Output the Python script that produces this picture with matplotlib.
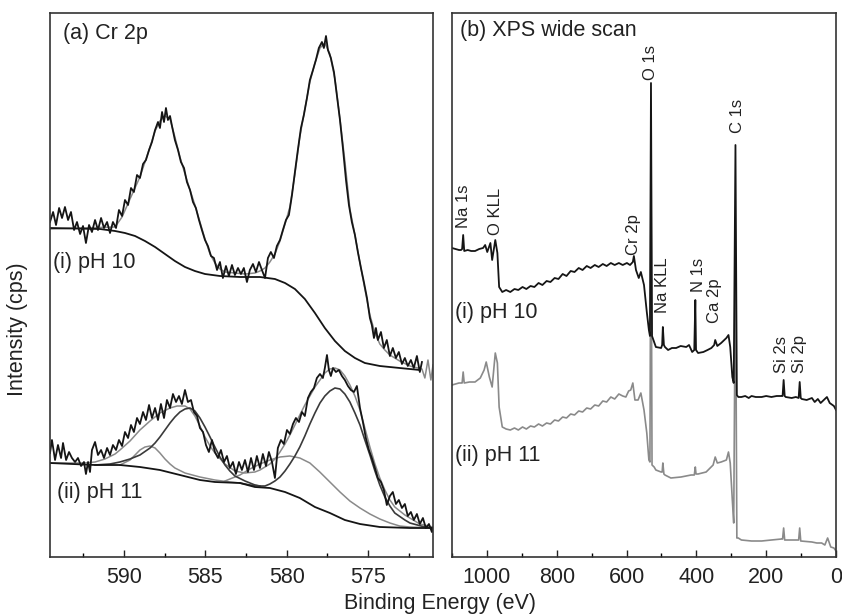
import matplotlib
matplotlib.use("Agg")
import matplotlib.pyplot as plt
from matplotlib.ticker import MultipleLocator

plt.rcParams['font.family'] = ['Liberation Sans', 'DejaVu Sans']

# ---------------- (a) Cr 2p high resolution ----------------
# (i) pH 10: raw counts (arbitrary units)
cr10_ev = [594.55, 594.36, 594.18, 593.99, 593.81, 593.63, 593.44, 593.26, 593.07, 592.89,
           592.70, 592.52, 592.34, 592.15, 591.97, 591.78, 591.60, 591.41, 591.23, 591.04,
           590.86, 590.68, 590.49, 590.31, 590.12, 589.94, 589.75, 589.57, 589.39, 589.20,
           589.02, 588.83, 588.65, 588.46, 588.28, 588.09, 587.91, 587.79, 587.66, 587.54,
           587.42, 587.30, 587.17, 587.05, 586.87, 586.68, 586.50, 586.31, 586.13, 585.94,
           585.76, 585.58, 585.39, 585.21, 585.02, 584.84, 584.65, 584.47, 584.28, 584.10,
           583.92, 583.73, 583.55, 583.36, 583.18, 582.99, 582.81, 582.63, 582.44, 582.26,
           582.07, 581.89, 581.70, 581.52, 581.33, 581.15, 580.97, 580.78, 580.60, 580.41,
           580.23, 580.04, 579.86, 579.67, 579.49, 579.31, 579.12, 578.94, 578.75, 578.57,
           578.38, 578.20, 578.02, 577.83, 577.71, 577.58, 577.46, 577.28, 577.09, 576.91,
           576.72, 576.54, 576.35, 576.17, 575.99, 575.80, 575.62, 575.43, 575.25, 575.06,
           574.88, 574.76, 574.63, 574.51, 574.39, 574.20, 574.02, 573.84, 573.65, 573.47,
           573.28, 573.10, 572.91, 572.73, 572.55, 572.36, 572.18, 571.99, 571.81, 571.68]
cr10_cps = [335, 345, 332, 349, 339, 350, 337, 345, 327, 335,
            323, 331, 314, 332, 325, 337, 327, 339, 329, 335,
            324, 335, 329, 347, 341, 357, 352, 369, 365, 382,
            379, 393, 397, 407, 415, 427, 435, 429, 445, 435,
            449, 437, 441, 431, 417, 407, 395, 389, 375, 367,
            355, 349, 337, 327, 317, 311, 301, 299, 287, 295,
            279, 291, 281, 292, 282, 289, 283, 289, 275, 287,
            293, 285, 295, 287, 279, 299, 305, 299, 311, 317,
            327, 337, 342, 362, 385, 407, 429, 442, 459, 477,
            487, 497, 509, 515, 509, 521, 507, 499, 485, 462,
            437, 409, 377, 352, 335, 322, 305, 289, 275, 259,
            239, 232, 219, 229, 217, 225, 209, 217, 201, 209,
            199, 205, 193, 199, 191, 197, 189, 201, 185, 195]

cr10_fit_ev = [594.55, 590.55, 590.12, 589.63, 589.02, 588.71, 588.40, 588.09, 587.79, 587.48,
               587.17, 586.87, 586.56, 586.25, 585.94, 585.64, 585.33, 585.02, 584.71, 584.41,
               584.10, 583.79, 583.18, 582.56, 581.95, 581.64, 581.33, 581.03, 580.72, 580.41,
               580.10, 579.80, 579.49, 579.19, 578.88, 578.57, 578.26, 577.95, 577.65, 577.34,
               577.03, 576.72, 576.42, 576.11, 575.80, 575.49, 575.19, 574.88, 574.57, 574.27,
               573.96, 573.65, 573.05, 572.42, 571.68, 571.50, 571.31, 571.13, 571.00]
cr10_fit_cps = [328, 330, 340, 358, 380, 395, 410, 426, 436, 441,
                438, 420, 400, 383, 367, 352, 335, 318, 303, 294,
                288, 285, 284, 283, 284, 286, 289, 295, 303, 316,
                333, 350, 383, 420, 448, 475, 494, 509, 514, 503,
                478, 438, 396, 348, 322, 294, 268, 242, 224, 213,
                207, 202, 196, 191, 188, 179, 197, 177, 192]

cr10_bg_ev = [594.55, 591.48, 590.55, 589.94, 589.32, 588.71, 588.09, 587.48, 586.87, 586.25,
              585.64, 585.02, 584.10, 582.87, 581.64, 580.72, 580.10, 579.49, 578.88, 578.26,
              577.65, 577.03, 576.42, 575.80, 575.19, 574.27, 573.05, 571.81]
cr10_bg_cps = [329, 328, 326, 324, 321, 316, 310, 303, 296, 290,
               286, 283, 281, 280, 280, 278, 274, 268, 258, 244,
               229, 216, 206, 199, 194, 191, 189, 187]

# (ii) pH 11
cr11_ev = [594.55, 594.43, 594.24, 594.06, 593.87, 593.75, 593.56, 593.38, 593.20, 593.01,
           592.83, 592.64, 592.46, 592.34, 592.21, 592.09, 591.97, 591.78, 591.60, 591.41,
           591.23, 591.04, 590.86, 590.68, 590.49, 590.31, 590.12, 589.94, 589.75, 589.57,
           589.39, 589.20, 589.02, 588.83, 588.65, 588.46, 588.28, 588.09, 587.91, 587.73,
           587.54, 587.36, 587.17, 586.99, 586.80, 586.62, 586.44, 586.25, 586.07, 585.88,
           585.70, 585.51, 585.33, 585.14, 584.96, 584.78, 584.59, 584.41, 584.22, 584.04,
           583.85, 583.67, 583.49, 583.30, 583.12, 582.93, 582.75, 582.56, 582.38, 582.19,
           582.01, 581.83, 581.64, 581.46, 581.27, 581.09, 580.90, 580.72, 580.54, 580.35,
           580.17, 579.98, 579.80, 579.61, 579.43, 579.24, 579.06, 578.88, 578.69, 578.51,
           578.32, 578.14, 577.95, 577.77, 577.65, 577.52, 577.40, 577.28, 577.15, 576.97,
           576.79, 576.60, 576.42, 576.23, 576.05, 575.86, 575.68, 575.49, 575.31, 575.13,
           574.94, 574.76, 574.57, 574.39, 574.20, 574.02, 573.84, 573.65, 573.47, 573.28,
           573.10, 572.91, 572.73, 572.55, 572.36, 572.18, 571.99, 571.81, 571.62, 571.44,
           571.25, 571.07, 571.01]
cr11_cps = [104, 117, 97, 112, 99, 114, 97, 105, 99, 95,
            99, 91, 95, 83, 95, 85, 107, 115, 102, 107,
            99, 109, 102, 112, 107, 117, 111, 125, 119, 132,
            125, 139, 133, 145, 137, 152, 139, 149, 137, 153,
            139, 157, 149, 163, 155, 161, 153, 167, 155, 157,
            145, 141, 129, 125, 112, 105, 117, 105, 99, 107,
            95, 101, 89, 95, 83, 95, 87, 97, 85, 99,
            87, 101, 89, 103, 91, 105, 95, 79, 109, 117,
            113, 127, 123, 133, 139, 135, 145, 141, 159, 165,
            169, 179, 183, 179, 189, 202, 187, 181, 189, 185,
            187, 181, 177, 171, 167, 165, 171, 149, 135, 119,
            107, 99, 89, 79, 75, 67, 52, 61, 65, 53,
            57, 49, 53, 41, 45, 37, 43, 33, 39, 29,
            33, 25, 29]

cr11_fit_ev = [594.55, 592.50, 591.78, 591.17, 590.55, 590.25, 589.63, 589.02, 588.40, 587.79,
               587.17, 586.74, 586.25, 585.94, 585.64, 585.33, 585.02, 584.71, 584.41, 583.79,
               583.18, 582.56, 581.95, 581.64, 581.03, 580.72, 580.41, 580.10, 579.80, 579.49,
               579.19, 578.88, 578.57, 578.26, 577.95, 577.65, 577.34, 577.03, 576.72, 576.42,
               576.11, 575.80, 575.49, 575.19, 574.88, 574.57, 574.27, 573.96, 573.65, 573.35,
               572.73, 571.81, 571.01]
cr11_fit_cps = [94, 94, 95, 98, 103, 107, 116, 127, 136, 144,
                149, 151, 151, 148, 141, 131, 120, 111, 104, 93,
                86, 84, 85, 87, 93, 98, 105, 113, 122, 132,
                142, 152, 161, 170, 177, 184, 188, 189, 187, 181,
                172, 161, 147, 129, 110, 93, 79, 67, 57, 50,
                42, 33, 30]

cr11_bg_ev = [594.55, 591.78, 590.25, 589.02, 587.79, 586.56, 585.33, 584.41, 582.87, 581.95,
              581.03, 580.10, 579.19, 578.26, 577.34, 576.42, 575.49, 574.27, 572.42, 571.01]
cr11_bg_cps = [94, 92, 92, 90, 87, 82, 77, 75, 74, 70,
               69, 65, 59, 50, 44, 37, 33, 30, 29, 29]

# fitted components, pH 11
p32_main_ev = [591.78, 590.86, 590.25, 589.63, 589.02, 588.40, 588.09, 587.79, 587.48, 587.17,
               586.87, 586.56, 586.25, 585.94, 585.64, 585.33, 585.02, 584.71, 584.41, 584.10,
               583.79, 583.49, 583.18, 582.56, 581.95, 581.64]
p32_main_cps = [92, 93, 95, 98, 102, 109, 114, 120, 127, 134,
                140, 145, 148, 149, 146, 139, 130, 120, 110, 100,
                92, 86, 81, 76, 72, 71]
p32_sat_ev = [590.25, 589.63, 589.32, 589.02, 588.71, 588.40, 588.09, 587.79, 587.48, 587.17,
              586.87, 586.25, 585.33, 584.41, 583.49, 582.87]
p32_sat_cps = [92, 97, 102, 107, 110, 111, 109, 104, 98, 93,
               89, 84, 80, 77, 75, 74]
p12_main_ev = [582.87, 582.26, 581.64, 581.33, 581.03, 580.72, 580.41, 580.10, 579.80, 579.49,
               579.19, 578.88, 578.57, 578.26, 577.95, 577.65, 577.34, 577.03, 576.72, 576.42,
               576.11, 575.80, 575.49, 575.19, 574.88, 574.57, 574.27, 573.96, 573.65, 573.35,
               572.73, 572.42, 571.50, 571.01]
p12_main_cps = [74, 72, 71, 71, 73, 76, 80, 86, 93, 101,
                110, 121, 133, 144, 154, 161, 166, 169, 168, 163,
                155, 144, 132, 117, 102, 86, 72, 60, 51, 44,
                37, 34, 30, 29]
p12_sat_ev = [583.79, 583.49, 582.87, 582.26, 581.64, 581.03, 580.41, 579.80, 579.19, 578.57,
              577.96, 577.34, 576.72, 576.11, 575.49, 574.88, 574.27, 573.65, 573.05, 572.42, 571.01]
p12_sat_cps = [76, 78, 82, 88, 93, 97, 100, 101, 99, 94,
               85, 75, 65, 56, 49, 43, 38, 34, 31, 30, 29]

# ---------------- (b) survey ----------------
wide10_ev = [1100, 1090, 1080, 1074, 1071, 1068, 1065, 1055, 1045, 1034,
             1022, 1011, 1005, 999, 990, 985, 976, 970, 965,
             956, 945, 933, 921, 910, 898, 887, 875, 864, 852,
             841, 829, 818, 806, 795, 783, 772, 760, 749, 737,
             726, 714, 703, 691, 680, 668, 657, 645, 634, 622,
             611, 599, 590, 582, 579, 573, 565, 559, 550, 542,
             536, 533, 530, 527, 521, 516, 501, 498, 496, 493,
             490, 481, 470, 458, 445, 429, 421, 412, 406, 403,
             401, 395, 380, 368, 357, 349, 346, 340, 329, 314,
             308, 303, 297, 293, 288, 284, 280, 271, 260, 250,
             242, 230, 213, 200, 185, 170, 156, 153, 150, 147,
             144, 127, 115, 107, 104, 101, 98, 84, 69, 61,
             52, 44, 35, 26, 18, 6, 0]
wide10_cps = [309, 308, 307, 307, 308, 322, 306, 307, 306, 306,
              308, 309, 312, 305, 314, 297, 317, 304, 270,
              265, 267, 265, 268, 267, 270, 268, 271, 270, 274,
              272, 276, 275, 279, 278, 283, 281, 286, 285, 289,
              287, 291, 289, 292, 290, 293, 291, 294, 292, 294,
              292, 294, 292, 295, 301, 287, 279, 285, 272, 245,
              227, 221, 474, 221, 215, 210, 209, 212, 230, 212,
              210, 207, 209, 209, 211, 210, 212, 205, 207, 257,
              207, 204, 205, 207, 209, 212, 217, 211, 214, 219,
              222, 210, 180, 174, 412, 162, 160, 160, 161, 159,
              161, 160, 160, 161, 160, 161, 161, 161, 177, 161,
              160, 159, 160, 159, 175, 159, 158, 157, 159, 155,
              158, 154, 157, 160, 154, 151, 147]

wide11_ev = [1100, 1090, 1080, 1074, 1071, 1068, 1065, 1050, 1034, 1019,
             1008, 1002, 993, 985, 976, 970, 965,
             956, 945, 933, 921, 910, 898, 887, 875, 864, 852,
             841, 829, 818, 806, 795, 783, 772, 760, 749, 737,
             726, 714, 703, 691, 680, 668, 657, 645, 634, 622,
             611, 602, 594, 588, 582, 576, 567, 559, 550, 542,
             536, 533, 530, 527, 521, 516, 501, 498, 496, 493,
             490, 473, 444, 415, 406, 403, 401, 395, 372, 352,
             346, 340, 329, 314, 308, 303, 297, 293, 288, 284,
             280, 271, 242, 213, 185, 156, 153, 150, 147, 127,
             107, 104, 101, 69, 55, 41, 32, 24, 15, 6, 0]
wide11_cps = [172, 173, 174, 174, 174, 185, 174, 175, 175, 179,
              187, 195, 180, 170, 204, 194, 150,
              130, 128, 127, 129, 127, 130, 128, 131, 130, 133,
              131, 134, 133, 137, 136, 140, 139, 143, 142, 146,
              145, 149, 148, 152, 151, 156, 155, 160, 158, 163,
              161, 160, 166, 167, 174, 157, 157, 164, 147, 124,
              97, 95, 400, 92, 90, 87, 85, 85, 94, 83,
              82, 79, 80, 82, 82, 90, 83, 83, 85, 92,
              100, 94, 95, 97, 105, 94, 57, 34, 300, 19,
              19, 17, 16, 16, 17, 18, 18, 29, 17, 17,
              17, 29, 16, 15, 14, 14, 12, 19, 10, 9, 6]

peak_names = ['Na 1s', 'O KLL', 'Cr 2p', 'O 1s', 'Na KLL', 'N 1s', 'Ca 2p', 'C 1s', 'Si 2s', 'Si 2p']
peak_ev = [1068, 976, 579, 530, 496, 395, 349, 283, 156, 104]
peak_label_y = [329, 322, 302, 477, 244, 265, 234, 424, 184, 184]

# ---------------- drawing ----------------
black = '#151515'
grey = '#8a8a8a'
txt = '#222222'

fig = plt.figure(figsize=(8.42, 6.14), dpi=100)
ax_a = fig.add_axes([50 / 842, 57 / 614, 383 / 842, 544 / 614])
ax_b = fig.add_axes([452 / 842, 57 / 614, 384 / 842, 544 / 614])

ax_a.plot(cr10_fit_ev, cr10_fit_cps, color=grey, lw=1.1)
ax_a.plot(cr10_ev, cr10_cps, color=black, lw=1.3)
ax_a.plot(cr10_bg_ev, cr10_bg_cps, color=black, lw=1.3)

ax_a.plot(p32_sat_ev, p32_sat_cps, color=grey, lw=1.1)
ax_a.plot(p12_sat_ev, p12_sat_cps, color=grey, lw=1.1)
ax_a.plot(cr11_fit_ev, cr11_fit_cps, color=grey, lw=1.1)
ax_a.plot(p32_main_ev, p32_main_cps, color='#3a3a3a', lw=1.2)
ax_a.plot(p12_main_ev, p12_main_cps, color='#3a3a3a', lw=1.2)
ax_a.plot(cr11_bg_ev, cr11_bg_cps, color=black, lw=1.3)
ax_a.plot(cr11_ev, cr11_cps, color=black, lw=1.3)

ax_a.set_xlim(594.55, 571.0)
ax_a.xaxis.set_major_locator(MultipleLocator(5))
ax_a.xaxis.set_minor_locator(MultipleLocator(2.5))

ax_b.plot(wide11_ev, wide11_cps, color=grey, lw=1.2)
ax_b.plot(wide10_ev, wide10_cps, color=black, lw=1.3)
for name, ev, y in zip(peak_names, peak_ev, peak_label_y):
    ax_b.text(ev, y, name, rotation=90, ha='center', va='bottom', fontsize=12, color=txt)

ax_b.set_xlim(1100, 0)
ax_b.xaxis.set_major_locator(MultipleLocator(200))
ax_b.xaxis.set_minor_locator(MultipleLocator(100))

for ax in (ax_a, ax_b):
    ax.set_ylim(0, 544)
    ax.set_yticks([])
    ax.tick_params(axis='x', which='major', direction='in', length=5, width=1,
                   labelsize=15.5, pad=7, colors=txt)
    ax.tick_params(axis='x', which='minor', direction='in', length=3, width=1)
    for sp in ax.spines.values():
        sp.set_linewidth(1.2)
        sp.set_color('#333333')

ax_a.text(0.034, 0.962, '(a) Cr 2p', transform=ax_a.transAxes, fontsize=15.5, va='center', color=txt)
ax_a.text(0.008, 0.542, '(i) pH 10', transform=ax_a.transAxes, fontsize=15.5, va='center', color=txt)
ax_a.text(0.018, 0.118, '(ii) pH 11', transform=ax_a.transAxes, fontsize=15.5, va='center', color=txt)
ax_b.text(0.021, 0.967, '(b) XPS wide scan', transform=ax_b.transAxes, fontsize=15.5, va='center', color=txt)
ax_b.text(0.008, 0.45, '(i) pH 10', transform=ax_b.transAxes, fontsize=15.5, va='center', color=txt)
ax_b.text(0.008, 0.1875, '(ii) pH 11', transform=ax_b.transAxes, fontsize=15.5, va='center', color=txt)

fig.text(440 / 842, 11 / 614, 'Binding Energy (eV)', ha='center', va='center', fontsize=15.5, color=txt)
fig.text(18 / 842, 285 / 614, 'Intensity (cps)', ha='center', va='center', rotation=90,
         fontsize=15.5, color=txt)

fig.savefig('out.png', dpi=100)
